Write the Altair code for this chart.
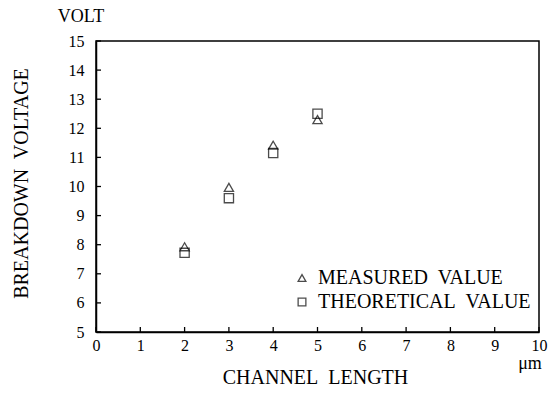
import altair as alt
import pandas as pd

channel_length = [2, 3, 4, 5]
measured = [7.93, 9.97, 11.42, 12.3]
theoretical = [7.72, 9.6, 11.15, 12.5]
series_names = ["MEASURED\u00a0 VALUE", "THEORETICAL\u00a0 VALUE"]
x_ticks = list(range(0, 11))
y_ticks = list(range(5, 16))

W, H = 443, 291
FONT = "Liberation Serif"

rows = []
for x, m, t in zip(channel_length, measured, theoretical):
    rows.append({"x": x, "y": m, "s": series_names[0]})
    rows.append({"x": x, "y": t, "s": series_names[1]})
df = pd.DataFrame(rows)

xscale = alt.Scale(domain=[0, 10], nice=False)
yscale = alt.Scale(domain=[5, 15], nice=False, zero=False)

common = dict(tickSize=0, grid=False, labelOverlap=False, labelFlush=False,
              labelFont=FONT, labelFontSize=16, labelColor="black",
              titleFont=FONT, titleFontSize=20, titleFontWeight="normal", titleColor="black",
              domainColor="black", domainWidth=1.5)
xaxis = alt.Axis(values=x_ticks, labelPadding=5,
                 title="CHANNEL\u00a0 LENGTH", titleX=219, titleY=51,
                 titleBaseline="alphabetic", titleAlign="center", **common)
yaxis = alt.Axis(values=y_ticks, labelPadding=12,
                 title="BREAKDOWN\u00a0 VOLTAGE", titleX=-75, titleY=142,
                 titleAngle=-90, titleAlign="center", titleBaseline="middle", **common)

points = alt.Chart(df).mark_point(filled=False, color="black", strokeWidth=1.3, size=85).encode(
    x=alt.X("x:Q", scale=xscale, axis=xaxis),
    y=alt.Y("y:Q", scale=yscale, axis=yaxis),
    shape=alt.Shape("s:N", scale=alt.Scale(domain=series_names, range=["triangle-up", "square"]),
                    legend=alt.Legend(title=None, orient="none", legendX=196, legendY=227,
                                      labelFont=FONT, labelFontSize=20, labelColor="black",
                                      labelLimit=400,
                                      symbolStrokeColor="black", symbolFillColor="transparent",
                                      symbolSize=60, symbolStrokeWidth=1.3, labelOffset=6,
                                      rowPadding=4)),
)

xt = alt.Chart(pd.DataFrame({"x": x_ticks})).mark_rule(color="black", strokeWidth=1.3).encode(
    x=alt.X("x:Q", scale=xscale, axis=xaxis), y=alt.value(H), y2=alt.value(H - 5))
yt = alt.Chart(pd.DataFrame({"y": y_ticks})).mark_rule(color="black", strokeWidth=1.3).encode(
    y=alt.Y("y:Q", scale=yscale, axis=yaxis), x=alt.value(0), x2=alt.value(5))

volt = alt.Chart(pd.DataFrame({"l": ["VOLT"]})).mark_text(
    font=FONT, fontSize=18, color="black", align="center", baseline="alphabetic").encode(
    text="l:N", x=alt.value(-15), y=alt.value(-19))
um = alt.Chart(pd.DataFrame({"l": ["\u03bcm"]})).mark_text(
    font=FONT, fontSize=18, color="black", align="center", baseline="middle").encode(
    text="l:N", x=alt.value(434), y=alt.value(32 + H))

chart = alt.layer(points, xt, yt, volt, um).properties(
    width=W, height=H, autosize=alt.AutoSizeParams(type="none"),
    padding={"left": 88, "top": 33, "right": 12, "bottom": 55},
    background="white",
).configure_view(stroke="black", strokeWidth=1.5).configure_axis(
    labelFont=FONT, titleFont=FONT
).configure_text(font=FONT)

chart.save("out.html", embed_options={"renderer": "svg", "actions": False})
